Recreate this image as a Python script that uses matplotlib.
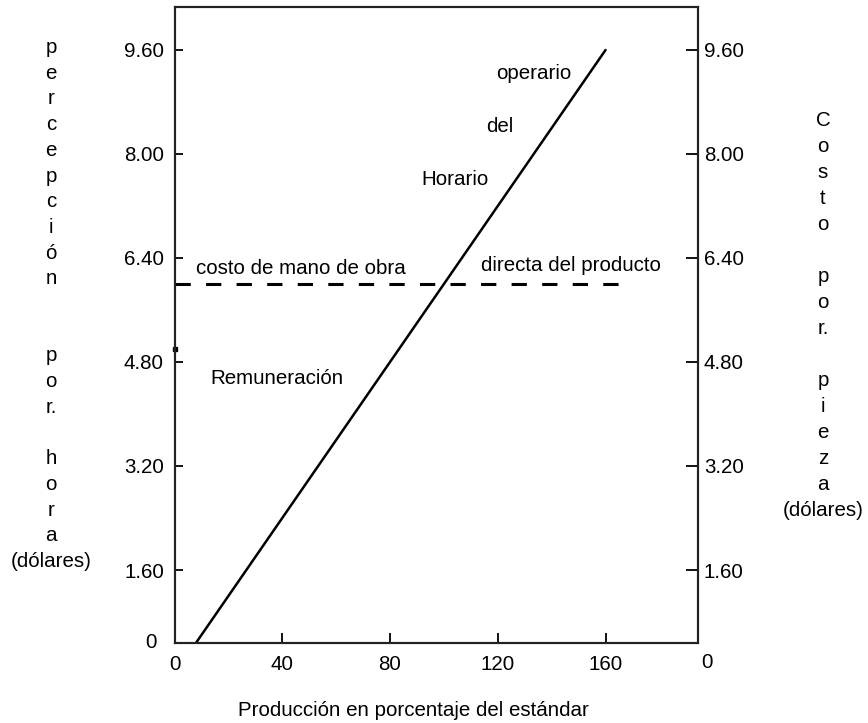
import numpy as np
import matplotlib.pyplot as plt

plt.rcParams['font.family'] = ['Liberation Sans', 'DejaVu Sans']
plt.rcParams['font.size'] = 14.8

# datos
produccion = [0, 160]          # % del estandar
remuneracion = [0, 9.6]        # dolares por hora
costo_x = [0, 170]
costo_y = [6.0, 6.0]           # costo de mano de obra directa por pieza
marca_eje = [5.0]

xticks = [0, 40, 80, 120, 160]
yticks = [1.6, 3.2, 4.8, 6.4, 8.0, 9.6]
ytick_labels = ['1.60', '3.20', '4.80', '6.40', '8.00', '9.60']

izq = ['p', 'e', 'r', 'c', 'e', 'p', 'c', 'i', 'ó', 'n', '', '', 'p', 'o', 'r.', '', 'h', 'o', 'r', 'a', '(dólares)']
der = ['C', 'o', 's', 't', 'o', '', 'p', 'o', 'r.', '', 'p', 'i', 'e', 'z', 'a', '(dólares)']

W, H = 868, 723
fig = plt.figure(figsize=(W / 100, H / 100), dpi=100)
ax = fig.add_axes([174.5 / W, 1 - 642.5 / H, 523.5 / W, 635.5 / H])

ax.plot(produccion, remuneracion, color='black', lw=1.8, solid_capstyle='round')
ax.plot(costo_x, costo_y, color='black', lw=2.2, dashes=(5, 5))
ax.plot([0], marca_eje, 's', color='black', ms=3, clip_on=False)

ax.set_xlim(0, 523.5 / 2.694)
ax.set_ylim(9.6 - 592.5 / 65, 9.6 + 43 / 65)

for s in ax.spines.values():
    s.set_linewidth(1.5)
    s.set_color('#222222')

ax.set_xticks(xticks)
ax.set_xticklabels([str(v) for v in xticks])
ax.tick_params(axis='x', direction='in', length=7, width=1.3, pad=9)
ax.set_yticks(yticks)
ax.set_yticklabels(ytick_labels)
ax.tick_params(axis='y', direction='in', length=6, width=1.3, pad=7.6)

ax2 = ax.twinx()
ax2.set_ylim(ax.get_ylim())
ax2.set_yticks(yticks)
ax2.set_yticklabels(ytick_labels)
ax2.tick_params(axis='y', direction='in', length=9, width=1.3, pad=4.3)
for s in ax2.spines.values():
    s.set_linewidth(1.5)
    s.set_color('#222222')

# ceros sueltos
ax.text(-0.033, 0.0, '0', transform=ax.transAxes, ha='right', va='center')
ax.text(1.017, -0.031, '0', transform=ax.transAxes, ha='center', va='center')

# rotulos dentro del grafico
ax.text(8.0, 6.15, 'costo de mano de obra', ha='left', va='baseline')
ax.text(113.8, 6.2, 'directa del producto', ha='left', va='baseline')
ax.text(13.4, 4.46, 'Remuneración', ha='left', va='baseline')
ax.text(91.8, 7.52, 'Horario', ha='left', va='baseline')
ax.text(115.6, 8.34, 'del', ha='left', va='baseline')
ax.text(119.3, 9.15, 'operario', ha='left', va='baseline')

# titulos de ejes, letra por letra
for i, t in enumerate(izq):
    fig.text(51 / W, 1 - (53 + i * 25.7) / H, t, ha='center', va='baseline')
for i, t in enumerate(der):
    fig.text(823 / W, 1 - (126 + i * 26) / H, t, ha='center', va='baseline')

fig.text(413 / W, 1 - 711 / H, 'Producción en porcentaje del estándar', ha='center', va='center')

fig.savefig('out.png', dpi=100)
